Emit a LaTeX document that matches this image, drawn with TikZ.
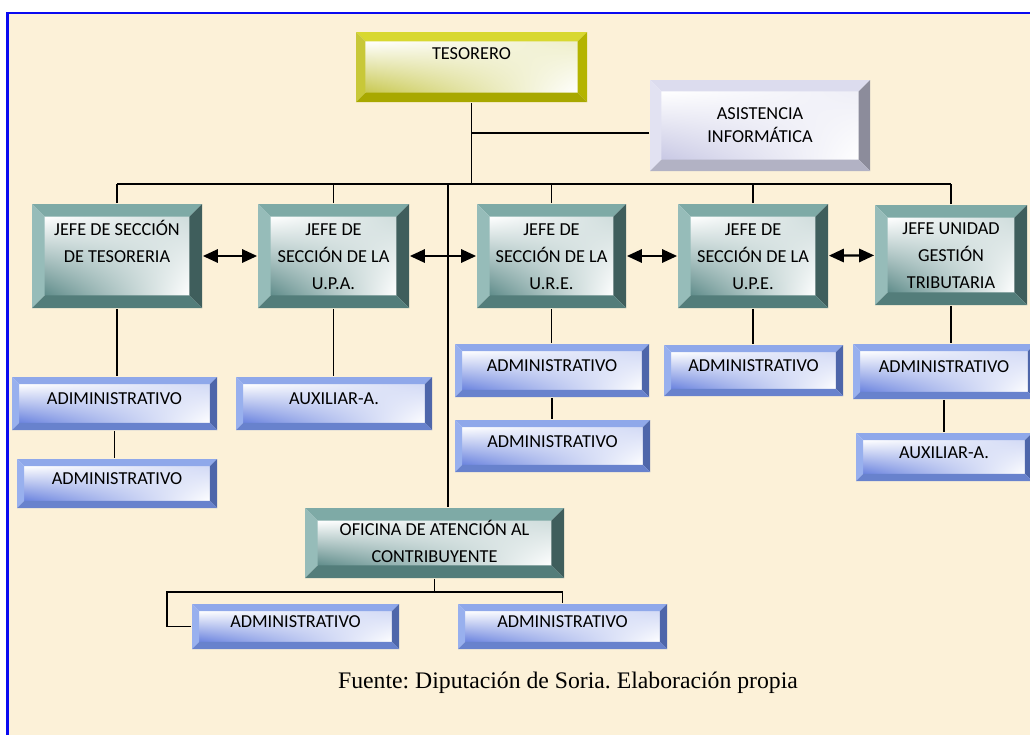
\documentclass[tikz,border=0pt]{standalone}
\usepackage{fontspec}
\usepackage{tikz}
\usetikzlibrary{arrows.meta, shadings}

\newfontfamily\boxfont{Carlito}
\newfontfamily\notefont{Liberation Serif}

\definecolor{paper}{RGB}{252,241,216}
\definecolor{frameblue}{RGB}{10,10,240}
% teal boxes
\definecolor{tealtop}{RGB}{126,170,166}
\definecolor{tealleft}{RGB}{150,188,185}
\definecolor{tealright}{RGB}{63,94,92}
\definecolor{tealbot}{RGB}{83,125,122}
\definecolor{tealface}{RGB}{95,140,138}
% blue boxes
\definecolor{bluetop}{RGB}{143,168,234}
\definecolor{blueleft}{RGB}{152,176,238}
\definecolor{blueright}{RGB}{78,102,170}
\definecolor{bluebot}{RGB}{104,130,205}
\definecolor{blueface}{RGB}{105,130,222}
% yellow box
\definecolor{yeltop}{RGB}{216,216,48}
\definecolor{yelleft}{RGB}{200,200,56}
\definecolor{yelright}{RGB}{180,180,0}
\definecolor{yelbot}{RGB}{168,168,0}
\definecolor{yelface}{RGB}{200,200,80}
% lilac box
\definecolor{liltop}{RGB}{220,220,238}
\definecolor{lilleft}{RGB}{226,226,242}
\definecolor{lilright}{RGB}{140,140,155}
\definecolor{lilbot}{RGB}{178,178,196}
\definecolor{lilface}{RGB}{200,200,228}

\tikzset{
  bev top/.store in=\bvtop, bev left/.store in=\bvleft,
  bev right/.store in=\bvright, bev bot/.store in=\bvbot,
  bev face/.store in=\bvface, bev w/.store in=\bvw,
  bev top=gray, bev left=gray, bev right=gray, bev bot=gray,
  bev face=gray, bev w=5pt
}

\begin{document}
\begin{tikzpicture}[
    x=0.02cm, y=-0.02cm,
    >={Triangle[length=8.5pt, width=7.5pt]},
    line width=1pt,
    every node/.style={inner sep=0pt},
    boxsize/.style 2 args={minimum width=#1*0.02cm, minimum height=#2*0.02cm},
    bevbox/.style={
      fill=white, align=center,
      font=\boxfont\fontsize{10.4}{15.3}\selectfont,
      path picture={
        \coordinate (o1) at (path picture bounding box.north west);
        \coordinate (o2) at (path picture bounding box.north east);
        \coordinate (o3) at (path picture bounding box.south east);
        \coordinate (o4) at (path picture bounding box.south west);
        \coordinate (i1) at ([xshift=\bvw, yshift=-\bvw]o1);
        \coordinate (i2) at ([xshift=-\bvw, yshift=-\bvw]o2);
        \coordinate (i3) at ([xshift=-\bvw, yshift=\bvw]o3);
        \coordinate (i4) at ([xshift=\bvw, yshift=\bvw]o4);
        \shade[lower left=\bvface, upper left=white,
               upper right=\bvface!30!white, lower right=white] (i4) rectangle (i2);
        \fill[fill=\bvtop] (o1) -- (o2) -- (i2) -- (i1) -- cycle;
        \fill[fill=\bvleft] (o1) -- (i1) -- (i4) -- (o4) -- cycle;
        \fill[fill=\bvright] (o2) -- (o3) -- (i3) -- (i2) -- cycle;
        \fill[fill=\bvbot] (o4) -- (i4) -- (i3) -- (o3) -- cycle;
      }
    },
    tealbox/.style={bevbox, text height=43.4pt, text depth=5pt, bev w=7.2pt,
      bev top=tealtop, bev left=tealleft, bev right=tealright,
      bev bot=tealbot, bev face=tealface},
    bluebox/.style={bevbox, text height=7pt, text depth=5.8pt, bev w=4pt,
      bev top=bluetop, bev left=blueleft, bev right=blueright,
      bev bot=bluebot, bev face=blueface},
    yelbox/.style={bevbox, text height=7pt, text depth=16pt, bev w=5.4pt,
      bev top=yeltop, bev left=yelleft, bev right=yelright,
      bev bot=yelbot, bev face=yelface},
    lilbox/.style={bevbox, text height=24.7pt, text depth=5pt, bev w=6.5pt,
      font=\boxfont\fontsize{10.4}{13}\selectfont,
      bev top=liltop, bev left=lilleft, bev right=lilright,
      bev bot=lilbot, bev face=lilface}
  ]
  \useasboundingbox (0,0) rectangle (1030,734);

  % ---- paper and frame ----
  \fill[paper] (7.3,13.2) rectangle (1045,750);
  \draw[frameblue, line width=1.4pt] (7.3,750) -- (7.3,13.2) -- (1045,13.2);

  % ---- top ----
  \node[yelbox, boxsize={231}{70}] (teso) at (471.5,67) {TESORERO};
  \node[lilbox, boxsize={220}{91}] (asis) at (760,125.5) {ASISTENCIA\\INFORMÁTICA};

  % ---- jefes ----
  \node[tealbox, boxsize={170}{104}, text height=12.8pt] (jst) at (117,256)
    {JEFE DE SECCIÓN\\DE TESORERIA};
  \node[tealbox, boxsize={151}{104}] (jupa) at (333.5,256) {JEFE DE\\SECCIÓN DE LA\\U.P.A.};
  \node[tealbox, boxsize={149}{104}] (jure) at (551.5,256) {JEFE DE\\SECCIÓN DE LA\\U.R.E.};
  \node[tealbox, boxsize={150}{104}] (jupe) at (753,256)   {JEFE DE\\SECCIÓN DE LA\\U.P.E.};
  \node[tealbox, boxsize={152}{100}] (jugt) at (951,255)   {JEFE UNIDAD\\GESTIÓN\\TRIBUTARIA};

  % ---- staff ----
  \node[bluebox, boxsize={205}{53}] (ad1a) at (114.5,403.5) {ADIMINISTRATIVO};
  \node[bluebox, boxsize={200}{49}] (ad1b) at (117,483.5)   {ADMINISTRATIVO};
  \node[bluebox, boxsize={196}{53}] (aux2) at (334,403.5)   {AUXILIAR-A.};
  \node[bluebox, boxsize={194}{53}] (ad3a) at (552,370.5)   {ADMINISTRATIVO};
  \node[bluebox, boxsize={195}{52}] (ad3b) at (552.5,446)   {ADMINISTRATIVO};
  \node[bluebox, boxsize={179}{51}] (ad4)  at (753.5,370.5) {ADMINISTRATIVO};
  \node[bluebox, boxsize={182}{55}] (ad5)  at (944,371.5)   {ADMINISTRATIVO};
  \node[bluebox, boxsize={176}{48}] (aux5) at (944,457)     {AUXILIAR-A.};

  % ---- oficina ----
  \node[tealbox, boxsize={259}{70}, text height=27pt] (ofi) at (434.5,543)
    {OFICINA DE ATENCIÓN AL\\CONTRIBUYENTE};
  \node[bluebox, boxsize={207}{45}] (ofa) at (295.5,626.5) {ADMINISTRATIVO};
  \node[bluebox, boxsize={209}{45}] (ofb) at (562.5,626.5) {ADMINISTRATIVO};

  % ---- lines ----
  \coordinate (bus) at (448,184);
  \coordinate (ofbus) at (ofi.south |- 0,592);
  \draw (teso.south) -- (teso.south |- bus);
  \draw ([yshift=-4.2pt]asis.west) -- ([yshift=-4.2pt]asis.west -| teso.south);
  \draw (jst.north |- bus) -- (jugt.north |- bus);
  \foreach \n in {jst, jupa, jure, jupe, jugt}
    \draw (\n.north) -- (\n.north |- bus);
  \draw (bus) -- (ofi.north -| bus);
  \foreach \a/\b in {jst/jupa, jupa/jure, jure/jupe, jupe/jugt}
    \draw[<->, line width=1.3pt] (\a) -- (\b);
  \foreach \a/\b in {jst/ad1a, ad1a/ad1b, jupa/aux2, jure/ad3a,
                     ad3a/ad3b, jupe/ad4, jugt/ad5, ad5/aux5}
    \draw (\a.south) -- (\a.south |- \b.north);
  \draw (ofi.south) -- (ofbus);
  \draw (ofa.west) -- ++(-24,0) |- (ofbus) -| (ofb.north);

  % Source
  \node[font=\notefont\fontsize{13.5}{16}\selectfont\frenchspacing] (src) at (568,683)
    {Fuente: Diputación de Soria. Elaboración propia};
\end{tikzpicture}
\end{document}
